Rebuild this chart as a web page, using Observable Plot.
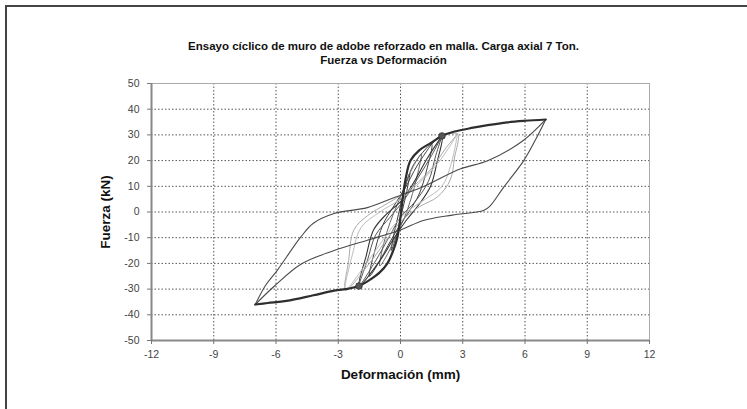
<!DOCTYPE html>
<html><head><meta charset="utf-8">
<script src="https://cdn.jsdelivr.net/npm/d3@7"></script>
<script src="https://cdn.jsdelivr.net/npm/@observablehq/plot@0.6"></script>
<style>
body{margin:0;background:#fff;}
#wrap{position:relative;width:747px;height:409px;overflow:hidden;background:#fff;}
#frame{position:absolute;left:5px;top:5px;width:800px;height:500px;border-top:2px solid #444;border-left:2px solid #444;}
#chart{position:absolute;left:0;top:0;}
</style>
</head><body>
<div id="wrap"><div id="frame"></div><div id="chart"></div></div>
<script>
const titleLines = ["Ensayo cíclico de muro de adobe reforzado en malla. Carga axial 7 Ton.", "Fuerza vs Deformación"];
const xLabel = "Deformación (mm)";
const yLabel = "Fuerza (kN)";
const xTicks = [-12, -9, -6, -3, 0, 3, 6, 9, 12];
const yTicks = [-50, -40, -30, -20, -10, 0, 10, 20, 30, 40, 50];

// envelope (skeleton) curve, mm vs kN
const envelope = [[-7,-36],[-6.4,-35.4],[-5.5,-34.6],[-4.2,-32.4],[-3.2,-30.6],[-2.5,-29.8],[-2.0,-28.8],[-1.5,-26.5],[-1.0,-23.5],[-0.63,-20],[-0.35,-15],[-0.15,-9.9],[0,-2],[0.1,5],[0.25,13],[0.48,20],[0.9,24],[1.45,26.8],[2.0,29.6],[2.6,31.3],[3.5,32.8],[4.2,33.8],[5.15,34.9],[6.0,35.5],[7,36]];
const peakMarks = [[2.0,29.6],[-2.0,-28.8]];

// hysteresis cycles
const cycleA = [[0,0],[0.15,7],[0.3,12],[0.45,15],[0.3,8],[0.1,1],[-0.1,-6],[-0.3,-12],[-0.45,-15],[-0.3,-8],[-0.1,-1],[0.1,6],[0.3,12],[0.45,15]];
const cycleB = [[0.45,15],[0.7,19],[1.0,22.5],[0.8,14],[0.5,5],[0.2,-2],[-0.2,-9],[-0.6,-16],[-1.0,-21],[-0.8,-12],[-0.5,-4],[-0.15,3],[0.25,11],[0.6,18],[1.0,22.5]];
const cycleC = [[1.0,22.5],[1.5,26.5],[1.25,16],[0.9,7],[0.4,0],[-0.1,-6],[-0.6,-13],[-1.0,-19],[-1.5,-25],[-1.2,-14],[-0.85,-5],[-0.35,2],[0.2,9],[0.8,18],[1.5,26.5]];
const cycleD = [[1.5,26.5],[2,29.6],[1.75,19],[1.45,10],[0.9,3],[0.3,-3],[-0.3,-10],[-1.0,-19],[-2.0,-28.8],[-1.65,-17],[-1.3,-7],[-0.7,-1],[0,4],[0.6,11],[1.3,21],[2,29.6]];
const cycleD2 = [[2,29.6],[1.7,22],[1.35,12],[0.7,4],[0,-2],[-0.5,-9],[-1.2,-19],[-2,-28.8],[-1.6,-19],[-1.2,-9],[-0.5,-2],[0.2,5],[0.9,14],[1.5,22],[2,29.6]];
const cycleE = [[2,29.6],[2.75,30.4],[2.6,21],[2.4,12.5],[1.8,6],[0.9,2],[0.1,-3],[-0.6,-10],[-1.5,-20],[-2.65,-30.4],[-2.5,-19],[-2.25,-7],[-1.6,-1.5],[-0.7,3],[0.3,8],[1.4,16],[2.2,25],[2.75,30.4]];
const cycleE2 = [[2.75,30.4],[2.45,19],[2.0,10],[1.2,5],[0.3,0],[-0.4,-6],[-1.2,-15],[-2.0,-24],[-2.65,-30.4],[-2.3,-16],[-1.9,-6],[-1.0,0],[0,5],[1.0,12],[1.9,20],[2.75,30.4]];
const cycleF = [[7,36],[6.5,28],[5.93,19.9],[4.96,9.5],[4.3,2.2],[4.0,0.6],[2.5,-1.2],[1.1,-3.3],[0,-7],[-1.6,-11],[-3.2,-15],[-4.8,-20.3],[-6.1,-29],[-7,-36]];
const cycleF2 = [[-7,-36],[-6.5,-28.5],[-5.93,-22.6],[-4.82,-9.9],[-4.2,-4.4],[-3.2,-0.6],[-1.6,1.7],[-0.3,5.6],[1.0,9.5],[2.9,16.8],[4.2,19.9],[5.9,27.7],[7,36]];

const cycleStyle = [
  [cycleA, "#3a3a3a", 1],
  [cycleB, "#6a6a6a", 1],
  [cycleC, "#404040", 1],
  [cycleD, "#333333", 1.1],
  [cycleD2, "#555555", 1],
  [cycleE, "#aaaaaa", 1],
  [cycleE2, "#bdbdbd", 1],
  [cycleF, "#4a4a4a", 1.1],
  [cycleF2, "#4a4a4a", 1.1]
];

const fmt = d => String(d);
const font = "Arial, 'Liberation Sans', sans-serif";

const chart = Plot.plot({
  width: 747, height: 409,
  marginLeft: 151, marginRight: 98, marginTop: 83, marginBottom: 69,
  style: {fontFamily: font, fontSize: "10px", color: "#444", background: "transparent", overflow: "visible"},
  x: {domain: [-12, 12]},
  y: {domain: [-50, 50]},
  marks: [
    Plot.gridX(xTicks.slice(1, -1), {stroke: "#555", strokeOpacity: 1, strokeDasharray: "1.5,2"}),
    Plot.gridY(yTicks.slice(1, -1), {stroke: "#555", strokeOpacity: 1, strokeDasharray: "1.5,2"}),
    Plot.frame({stroke: "#aaa", strokeWidth: 1}),
    Plot.ruleX([-12], {stroke: "#888", strokeWidth: 2}),
    Plot.ruleY([-50], {stroke: "#888", strokeWidth: 2}),
    ...cycleStyle.map(([pts, color, w]) => Plot.line(pts, {x: d => d[0], y: d => d[1], stroke: color, strokeWidth: w, curve: "catmull-rom"})),
    Plot.line(envelope, {x: d => d[0], y: d => d[1], stroke: "#2e2e2e", strokeWidth: 2.2, curve: "catmull-rom"}),
    Plot.dot(peakMarks, {x: d => d[0], y: d => d[1], r: 3.3, fill: "#555", stroke: "#333", strokeWidth: 0.8}),
    Plot.axisX(xTicks, {tickSize: 4, tickPadding: 6, tickFormat: fmt, stroke: "#777", fill: "#444", fontSize: 10.5, label: null}),
    Plot.axisY(yTicks, {tickSize: 4, tickPadding: 8, tickFormat: fmt, stroke: "#777", fill: "#444", fontSize: 10.5, label: null}),
    Plot.text([titleLines[0]], {frameAnchor: "top", dx: -17, dy: -42, fontWeight: "bold", fontSize: 11.5, fill: "#111"}),
    Plot.text([titleLines[1]], {frameAnchor: "top", dx: -17, dy: -28, fontWeight: "bold", fontSize: 11.5, fill: "#111"}),
    Plot.text([yLabel], {frameAnchor: "left", textAnchor: "middle", dx: -46, rotate: -90, fontWeight: "bold", fontSize: 13.5, fill: "#111"}),
    Plot.text([xLabel], {frameAnchor: "bottom", dy: 38, fontWeight: "bold", fontSize: 13.5, fill: "#111"})
  ]
});
document.getElementById("chart").appendChild(chart);
</script>
</body></html>
